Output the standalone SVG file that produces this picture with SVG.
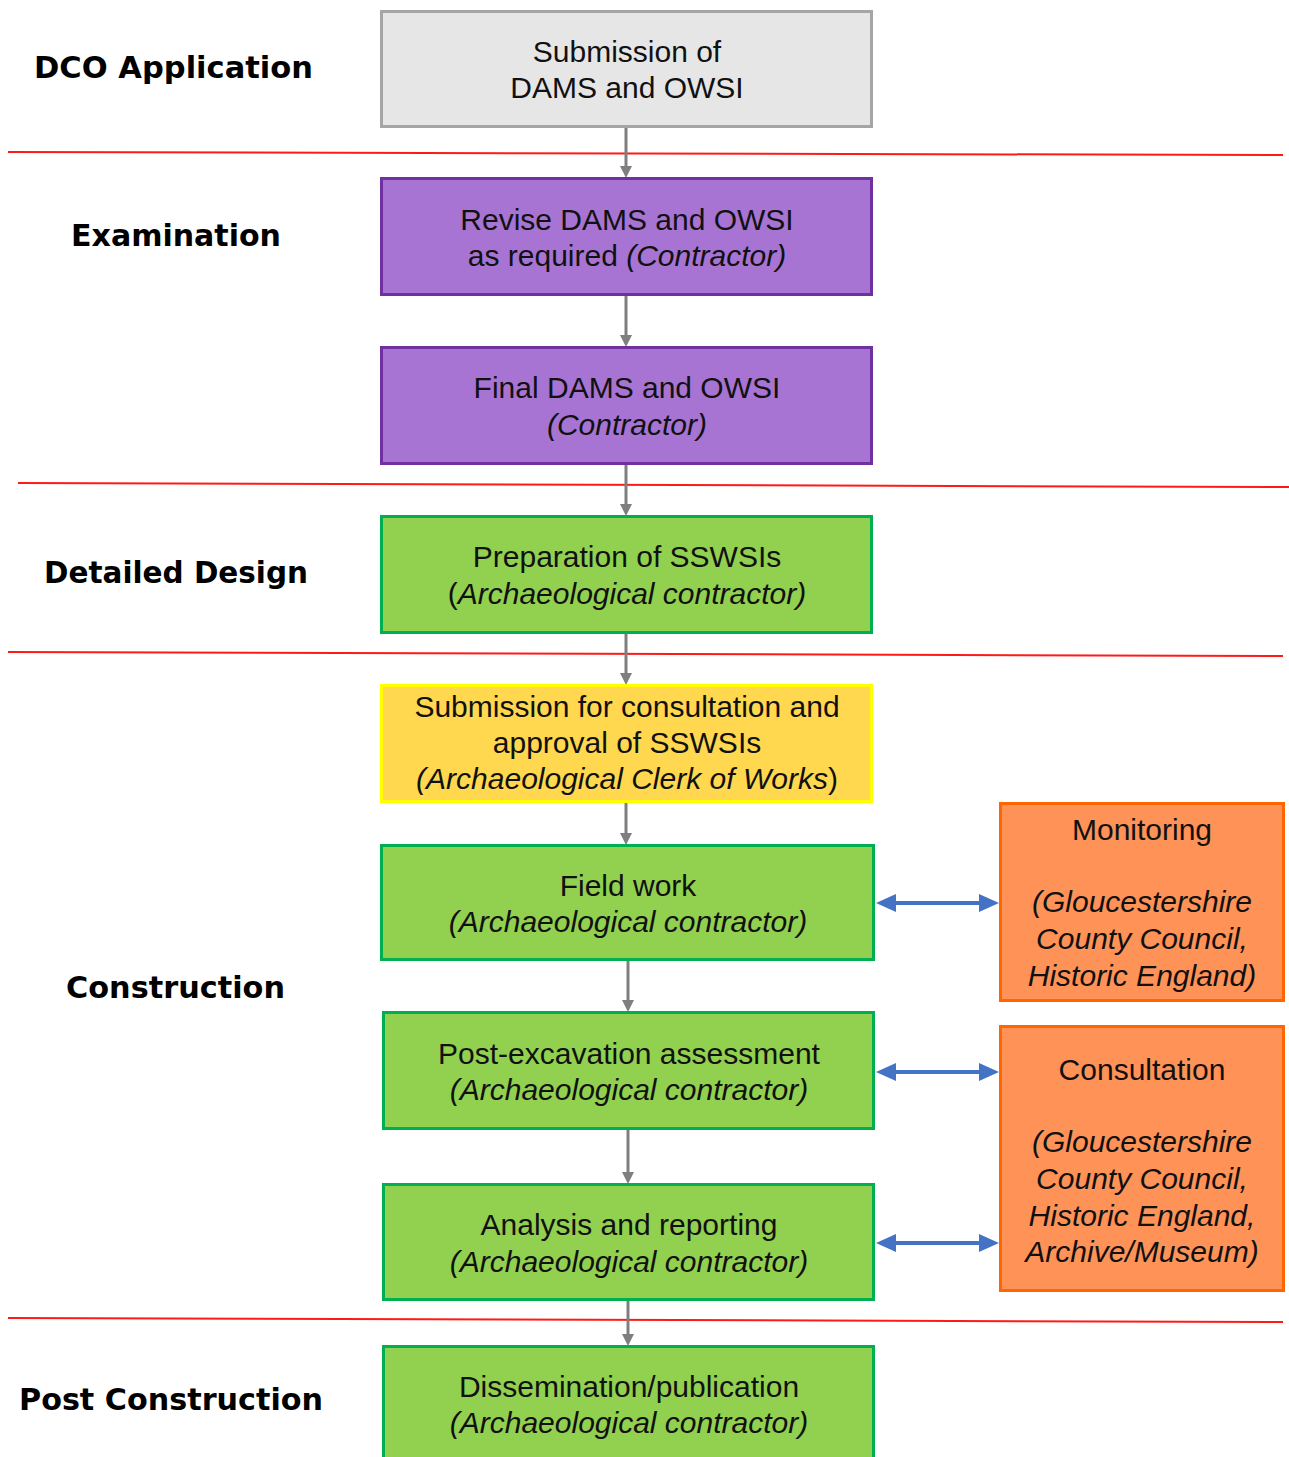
<svg xmlns="http://www.w3.org/2000/svg" width="1289" height="1457" viewBox="0 0 1289 1457">
<style>
.lbl{font-family:"DejaVu Sans","Liberation Sans",sans-serif;font-weight:bold;font-size:31px;fill:#000}
.t{font-family:"Liberation Sans",Arial,sans-serif;font-size:30px;fill:#111;text-anchor:middle}
.i{font-style:italic}
.n{font-style:normal}
.sep{stroke:#ff1a1a;stroke-width:2;fill:none}
.gray{fill:#e7e6e6;stroke:#a5a5a5;stroke-width:3}
.purple{fill:#a874d4;stroke:#7030a0;stroke-width:3}
.green{fill:#92d050;stroke:#00b050;stroke-width:3}
.yellow{fill:#ffd84f;stroke:#ffff00;stroke-width:3}
.orange{fill:#ff9257;stroke:#ff6600;stroke-width:3}
.down{stroke:#7f7f7f;stroke-width:3;fill:none;marker-end:url(#ah)}
.both{stroke:#4472c4;stroke-width:4;fill:none;marker-start:url(#bh);marker-end:url(#bh)}
</style>
<defs>
<marker id="ah" markerUnits="userSpaceOnUse" markerWidth="12" markerHeight="12" refX="4" refY="6" orient="auto">
<path d="M0,0 L12,6 L0,12 z" fill="#7f7f7f"/>
</marker>
<marker id="bh" markerUnits="userSpaceOnUse" markerWidth="20" markerHeight="18" refX="6" refY="9" orient="auto-start-reverse">
<path d="M0,0 L20,9 L0,18 z" fill="#4472c4"/>
</marker>
</defs>

<g id="separators">
<line class="sep" x1="8" y1="152" x2="1283" y2="155"/>
<line class="sep" x1="18" y1="483" x2="1289" y2="487"/>
<line class="sep" x1="8" y1="652" x2="1283" y2="656"/>
<line class="sep" x1="8" y1="1318" x2="1283" y2="1322"/>
</g>

<g id="phase-labels">
<text class="lbl" x="34" y="78" textLength="279" lengthAdjust="spacingAndGlyphs">DCO Application</text>
<text class="lbl" x="71" y="246" textLength="210" lengthAdjust="spacingAndGlyphs">Examination</text>
<text class="lbl" x="44" y="583" textLength="264" lengthAdjust="spacingAndGlyphs">Detailed Design</text>
<text class="lbl" x="66" y="998" textLength="219" lengthAdjust="spacingAndGlyphs">Construction</text>
<text class="lbl" x="19" y="1410" textLength="304" lengthAdjust="spacingAndGlyphs">Post Construction</text>
</g>

<g id="connectors">
<line class="down" x1="626" y1="127" x2="626" y2="170"/>
<line class="down" x1="626" y1="295" x2="626" y2="339"/>
<line class="down" x1="626" y1="464" x2="626" y2="508"/>
<line class="down" x1="626" y1="633" x2="626" y2="677"/>
<line class="down" x1="626" y1="802" x2="626" y2="837"/>
<line class="down" x1="628" y1="960" x2="628" y2="1004"/>
<line class="down" x1="628" y1="1129" x2="628" y2="1176"/>
<line class="down" x1="628" y1="1300" x2="628" y2="1338"/>
<line class="both" x1="890" y1="903" x2="985" y2="903"/>
<line class="both" x1="890" y1="1072" x2="985" y2="1072"/>
<line class="both" x1="890" y1="1243" x2="985" y2="1243"/>
</g>

<g id="n1">
<rect class="gray" x="381.5" y="11.5" width="490" height="115"/>
<text class="t" x="627" y="62">Submission of</text>
<text class="t" x="627" y="98">DAMS and OWSI</text>
</g>

<g id="n2">
<rect class="purple" x="381.5" y="178.5" width="490" height="116"/>
<text class="t" x="627" y="230">Revise DAMS and OWSI</text>
<text class="t" x="627" y="266">as required <tspan class="i">(Contractor)</tspan></text>
</g>

<g id="n3">
<rect class="purple" x="381.5" y="347.5" width="490" height="116"/>
<text class="t" x="627" y="398">Final DAMS and OWSI</text>
<text class="t i" x="627" y="435">(Contractor)</text>
</g>

<g id="n4">
<rect class="green" x="381.5" y="516.5" width="490" height="116"/>
<text class="t" x="627" y="567">Preparation of SSWSIs</text>
<text class="t" x="627" y="604">(<tspan class="i">Archaeological contractor)</tspan></text>
</g>

<g id="n5">
<rect class="yellow" x="381.5" y="685.5" width="490" height="116"/>
<text class="t" x="627" y="717">Submission for consultation and</text>
<text class="t" x="627" y="753">approval of SSWSIs</text>
<text class="t" x="627" y="789"><tspan class="i">(Archaeological Clerk of Works</tspan>)</text>
</g>

<g id="n6">
<rect class="green" x="381.5" y="845.5" width="492" height="114"/>
<text class="t" x="628" y="896">Field work</text>
<text class="t i" x="628" y="932">(Archaeological contractor)</text>
</g>

<g id="n7">
<rect class="green" x="383.5" y="1012.5" width="490" height="116"/>
<text class="t" x="629" y="1064">Post-excavation assessment</text>
<text class="t i" x="629" y="1100">(Archaeological contractor)</text>
</g>

<g id="n8">
<rect class="green" x="383.5" y="1184.5" width="490" height="115"/>
<text class="t" x="629" y="1235">Analysis and reporting</text>
<text class="t i" x="629" y="1272">(Archaeological contractor)</text>
</g>

<g id="n9">
<rect class="green" x="383.5" y="1346.5" width="490" height="130"/>
<text class="t" x="629" y="1397">Dissemination/publication</text>
<text class="t i" x="629" y="1433">(Archaeological contractor)</text>
</g>

<g id="monitoring">
<rect class="orange" x="1000.5" y="803.5" width="283" height="197"/>
<text class="t" x="1142" y="840">Monitoring</text>
<text class="t i" x="1142" y="912">(Gloucestershire</text>
<text class="t i" x="1142" y="949">County Council,</text>
<text class="t i" x="1142" y="986">Historic England)</text>
</g>

<g id="consultation">
<rect class="orange" x="1000.5" y="1026.5" width="283" height="264"/>
<text class="t" x="1142" y="1080">Consultation</text>
<text class="t i" x="1142" y="1152">(Gloucestershire</text>
<text class="t i" x="1142" y="1189">County Council,</text>
<text class="t i" x="1142" y="1226">Historic England,</text>
<text class="t i" x="1142" y="1262">Archive/Museum)</text>
</g>
</svg>
